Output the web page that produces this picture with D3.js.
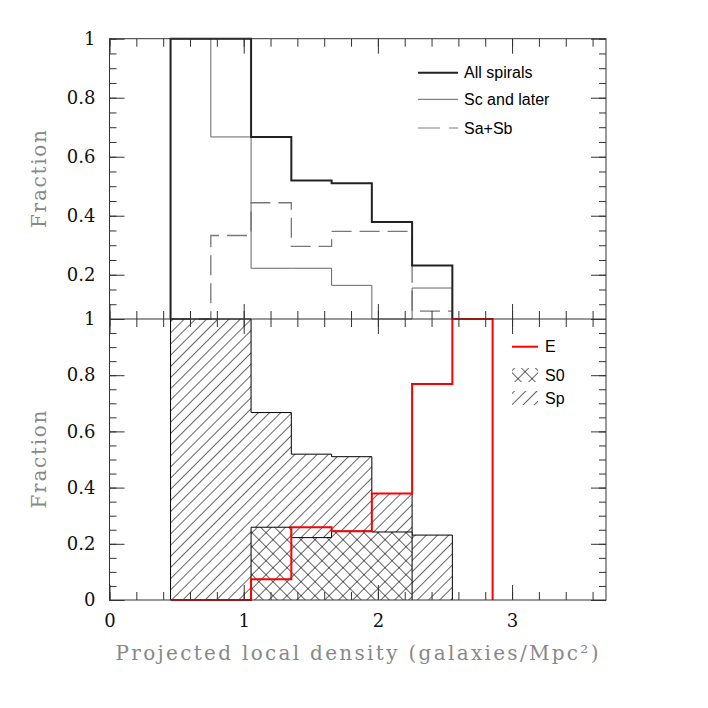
<!DOCTYPE html>
<html>
<head>
<meta charset="utf-8">
<script src="https://d3js.org/d3.v7.min.js"></script>
<style>
  body { margin: 0; background: #fff; }
  svg { display: block; }
</style>
</head>
<body>
<script>
// Histogram bins (left edges, width 0.3 in projected local density)
var binLo = [0.455, 0.755, 1.055, 1.355, 1.655, 1.955, 2.255, 2.555];
var binWidth = 0.3;

// Top panel: spiral fractions
var allSpirals = [1, 1, 0.667, 0.519, 0.51, 0.379, 0.231, 0];
var scLater    = [1, 0.667, 0.222, 0.222, 0.164, 0, 0.155, 0];
var saSb       = [0, 0.333, 0.444, 0.296, 0.347, 0.347, 0.077, 0];

// Bottom panel: morphological fractions
var fracE  = [0, 0, 0.074, 0.259, 0.245, 0.379, 0.769, 1];
var fracS0 = [0, 0, 0.259, 0.222, 0.245, 0.242, 0, 0];
var fracSp = [1, 1, 0.667, 0.519, 0.51, 0.379, 0.231, 0];

var xTicks = [0, 1, 2, 3];
var yTicks = [0, 0.2, 0.4, 0.6, 0.8, 1];

var serif = "'DejaVu Serif', 'Liberation Serif', 'Times New Roman', serif";

var svg = d3.select("body").append("svg")
    .attr("width", 708)
    .attr("height", 708);

var x = d3.scaleLinear().domain([0, 3.7]).range([109.5, 606]);
var yTop = d3.scaleLinear().domain([0.05, 1]).range([319, 38.7]).clamp(true);
var yBot = d3.scaleLinear().domain([0, 1]).range([600, 319]);

// hatch patterns
var defs = svg.append("defs");
defs.append("pattern")
    .attr("id", "hatchSp")
    .attr("patternUnits", "userSpaceOnUse")
    .attr("width", 7.9).attr("height", 7.9)
    .attr("patternTransform", "rotate(45)")
    .append("line")
    .attr("x1", 0).attr("y1", -1).attr("x2", 0).attr("y2", 9)
    .style("stroke", "#000").style("stroke-width", 1.2);
var cross = defs.append("pattern")
    .attr("id", "hatchS0")
    .attr("patternUnits", "userSpaceOnUse")
    .attr("width", 9.9).attr("height", 9.9)
    .attr("patternTransform", "rotate(45)");
cross.append("rect").attr("width", 9.9).attr("height", 9.9).attr("fill", "#fff");
cross.append("line").attr("x1", 0).attr("y1", -1).attr("x2", 0).attr("y2", 11)
    .style("stroke", "#000").style("stroke-width", 1.2);
cross.append("line").attr("x1", -1).attr("y1", 0).attr("x2", 11).attr("y2", 0)
    .style("stroke", "#000").style("stroke-width", 1.2);

// build the points of a step histogram from bin a to bin b (inclusive)
function steps(vals, a, b) {
    var pts = [[binLo[a], 0]];
    for (var i = a; i <= b; i++) {
        pts.push([binLo[i], vals[i]]);
        pts.push([binLo[i] + binWidth, vals[i]]);
    }
    pts.push([binLo[b] + binWidth, 0]);
    return pts;
}

function stepLine(yScale) {
    return d3.line()
        .x(function (d) { return x(d[0]); })
        .y(function (d) { return yScale(d[1]); });
}

// ---- Top panel
var lineTop = stepLine(yTop);
svg.append("path")
    .attr("d", lineTop(steps(saSb, 0, 6)))
    .style("fill", "none")
    .style("stroke", "#777")
    .style("stroke-width", 1.3)
    .style("stroke-dasharray", "20,8");
svg.append("path")
    .attr("d", lineTop(steps(scLater, 0, 6)))
    .style("fill", "none")
    .style("stroke", "#666")
    .style("stroke-width", 1);
svg.append("path")
    .attr("d", lineTop(steps(allSpirals, 0, 6)))
    .style("fill", "none")
    .style("stroke", "#222")
    .style("stroke-width", 2);

// ---- Bottom panel
var lineBot = stepLine(yBot);
svg.append("path")
    .attr("d", lineBot(steps(fracSp, 0, 6)))
    .style("fill", "url(#hatchSp)")
    .style("stroke", "#000")
    .style("stroke-width", 1);
svg.append("path")
    .attr("d", lineBot(steps(fracS0, 2, 5)))
    .style("fill", "url(#hatchS0)")
    .style("stroke", "#000")
    .style("stroke-width", 1);
svg.append("path")
    .attr("d", lineBot(steps(fracE, 0, 7)))
    .style("fill", "none")
    .style("stroke", "#ff0000")
    .style("stroke-width", 2);

// ---- Frames and ticks
var xMinor = d3.range(0, 19).map(function (i) { return i * 0.2; });
var yMinor = d3.range(0, 21).map(function (i) { return i * 0.05; });

function addAxis(axis, tr) {
    var g = svg.append("g").attr("transform", tr).call(axis);
    g.select(".domain").remove();
    g.selectAll("line").style("stroke", "#333");
    g.selectAll("text")
        .style("font-family", serif)
        .style("font-size", "18px")
        .style("fill", "#111");
    return g;
}

// x ticks: top of upper panel, middle border (both sides), bottom of lower panel
[[38.7, 1], [319, -1], [319, 1], [600, -1]].forEach(function (p) {
    var mk = p[1] > 0 ? d3.axisTop : d3.axisBottom;
    addAxis(mk(x).tickValues(xMinor).tickSize(-8).tickSizeOuter(0).tickFormat(""), "translate(0," + p[0] + ")");
    var maj = mk(x).tickValues(xTicks).tickSize(-15).tickSizeOuter(0).tickPadding(14).tickFormat(d3.format("d"));
    if (p[0] !== 600) maj.tickFormat("");
    addAxis(maj, "translate(0," + p[0] + ")");
});

// y ticks left and right for each panel
[[yTop, yMinor.filter(function (v) { return v > 0.04; }), yTicks.filter(function (v) { return v > 0; })],
 [yBot, yMinor, yTicks]].forEach(function (p) {
    addAxis(d3.axisLeft(p[0]).tickValues(p[1]).tickSize(-7).tickSizeOuter(0).tickFormat(""), "translate(109.5,0)");
    addAxis(d3.axisLeft(p[0]).tickValues(p[2]).tickSize(-15).tickSizeOuter(0).tickPadding(14).tickFormat(d3.format("~g")), "translate(109.5,0)");
    addAxis(d3.axisRight(p[0]).tickValues(p[1]).tickSize(-7).tickSizeOuter(0).tickFormat(""), "translate(606,0)");
    addAxis(d3.axisRight(p[0]).tickValues(p[2]).tickSize(-15).tickSizeOuter(0).tickFormat(""), "translate(606,0)");
});

svg.append("rect")
    .attr("x", 109.5).attr("y", 38.7)
    .attr("width", 606 - 109.5).attr("height", 600 - 38.7)
    .style("fill", "none").style("stroke", "#333").style("stroke-width", 1);
svg.append("line")
    .attr("x1", 109.5).attr("x2", 606).attr("y1", 319).attr("y2", 319)
    .style("stroke", "#333").style("stroke-width", 1);

// ---- Axis titles
svg.append("text")
    .attr("x", 357).attr("y", 660)
    .attr("text-anchor", "middle")
    .attr("textLength", 483).attr("lengthAdjust", "spacing")
    .style("font-family", serif)
    .style("font-size", "20px")
    .style("fill", "#888")
    .text("Projected local density (galaxies/Mpc\u00b2)");

[179, 459.5].forEach(function (cy) {
    svg.append("text")
        .attr("transform", "translate(46," + cy + ") rotate(-90)")
        .attr("text-anchor", "middle")
        .attr("textLength", 98).attr("lengthAdjust", "spacing")
        .style("font-family", serif)
        .style("font-size", "20px")
        .style("fill", "#888")
        .text("Fraction");
});

// ---- Legends
var legTop = [
    {label: "All spirals", stroke: "#222", width: 2, dash: null, y: 72.7},
    {label: "Sc and later", stroke: "#666", width: 1, dash: null, y: 99.3},
    {label: "Sa+Sb", stroke: "#aaa", width: 1.5, dash: "22,9", y: 128}
];
legTop.forEach(function (d) {
    svg.append("line")
        .attr("x1", 418).attr("x2", 458).attr("y1", d.y).attr("y2", d.y)
        .style("stroke", d.stroke).style("stroke-width", d.width)
        .style("stroke-dasharray", d.dash);
    svg.append("text")
        .attr("x", 464).attr("y", d.y + 5.5)
        .style("font-family", "'Liberation Sans', Arial, sans-serif")
        .style("font-size", "16px")
        .style("fill", "#000")
        .text(d.label);
});

svg.append("line")
    .attr("x1", 512).attr("x2", 538).attr("y1", 346.7).attr("y2", 346.7)
    .style("stroke", "#ff0000").style("stroke-width", 2);
svg.append("rect")
    .attr("x", 512).attr("y", 368).attr("width", 26).attr("height", 14)
    .style("fill", "url(#hatchS0)");
svg.append("rect")
    .attr("x", 512).attr("y", 391).attr("width", 26).attr("height", 14)
    .style("fill", "url(#hatchSp)");
[["E", 346.7], ["S0", 375], ["Sp", 398]].forEach(function (d) {
    svg.append("text")
        .attr("x", 545).attr("y", d[1] + 5.5)
        .style("font-family", "'Liberation Sans', Arial, sans-serif")
        .style("font-size", "16px")
        .style("fill", "#000")
        .text(d[0]);
});
</script>
</body>
</html>
